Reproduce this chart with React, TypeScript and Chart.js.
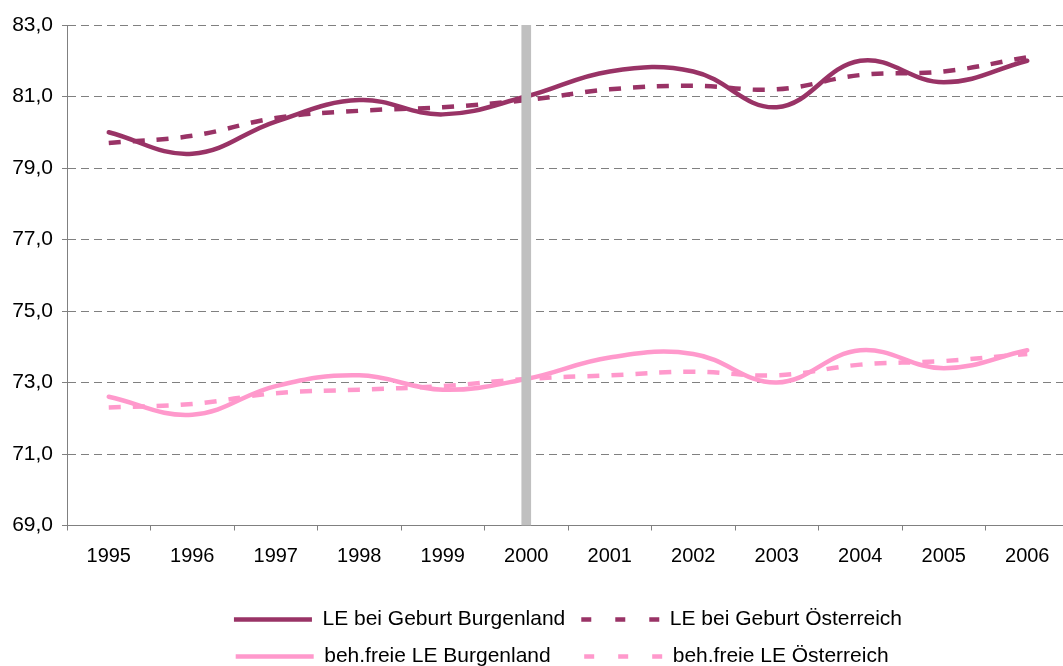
import React, { useEffect, useRef } from 'react';
import { Chart, registerables } from 'chart.js';

Chart.register(...registerables);

// ---- data ----
const years = ['1995', '1996', '1997', '1998', '1999', '2000', '2001', '2002', '2003', '2004', '2005', '2006'];
const leBurgenland = [80.0, 79.4, 80.3, 80.9, 80.5, 81.0, 81.7, 81.7, 80.7, 82.0, 81.4, 82.0];
const leOesterreich = [79.7, 79.9, 80.4, 80.6, 80.7, 80.9, 81.2, 81.3, 81.2, 81.6, 81.7, 82.1];
const hleBurgenland = [72.6, 72.1, 72.9, 73.2, 72.8, 73.1, 73.7, 73.8, 73.0, 73.9, 73.4, 73.9];
const hleOesterreich = [72.3, 72.4, 72.7, 72.8, 72.9, 73.1, 73.2, 73.3, 73.2, 73.5, 73.6, 73.8];
const seriesLabels = [
  'LE bei Geburt Burgenland',
  'LE bei Geburt Österreich',
  'beh.freie LE Burgenland',
  'beh.freie LE Österreich',
];
const markerYear = '2000';
const markerRange = [69, 83];
const yMin = 69;
const yMax = 83;
const yStep = 2;

const DARK = '#993366';
const PINK = '#FF99CC';
const FONT = "'Liberation Sans', Arial, sans-serif";

export default function App() {
  const ref = useRef<HTMLCanvasElement>(null);

  useEffect(() => {
    const canvas = ref.current;
    if (!canvas) return;
    const dash = [12, 12];
    const lineBase = {
      pointRadius: 0,
      pointHoverRadius: 0,
      borderWidth: 4.5,
      tension: 0.4,
      fill: false,
      order: 1,
      borderJoinStyle: 'round' as const,
    };
    // trailing spaces keep the legend's two columns aligned across rows
    const legendPad = ['', '', '   ', '  '];
    const defaultLabels = Chart.defaults.plugins.legend.labels.generateLabels;
    const chart = new Chart(canvas, {
      type: 'line',
      data: {
        labels: years,
        datasets: [
          {
            type: 'bar',
            label: 'marker',
            data: years.map((y) => (y === markerYear ? markerRange : null)) as any,
            backgroundColor: '#C0C0C0',
            barThickness: 9,
            order: 0,
          } as any,
          { ...lineBase, label: seriesLabels[0], data: leBurgenland, borderColor: DARK, backgroundColor: DARK, borderCapStyle: 'round' },
          { ...lineBase, label: seriesLabels[1], data: leOesterreich, borderColor: DARK, backgroundColor: DARK, borderDash: dash, borderCapStyle: 'butt' },
          { ...lineBase, label: seriesLabels[2], data: hleBurgenland, borderColor: PINK, backgroundColor: PINK, borderCapStyle: 'round' },
          { ...lineBase, label: seriesLabels[3], data: hleOesterreich, borderColor: PINK, backgroundColor: PINK, borderDash: dash, borderCapStyle: 'butt' },
        ],
      },
      options: {
        responsive: false,
        animation: false,
        events: [],
        layout: { padding: { top: 25, right: 16, left: 0, bottom: 23 } },
        plugins: {
          tooltip: { enabled: false },
          legend: {
            position: 'bottom',
            fullSize: false,
            align: 'center',
            labels: {
              usePointStyle: true,
              pointStyle: 'line',
              pointStyleWidth: 78,
              color: '#000',
              font: { family: FONT, size: 21 },
              padding: 16,
              filter: (item: any) => item.text !== 'marker',
              generateLabels: (c: any) => {
                const items = defaultLabels(c);
                items.forEach((it: any) => {
                  const ds = c.data.datasets[it.datasetIndex];
                  const idx = seriesLabels.indexOf(ds.label);
                  if (idx >= 0) it.text = ds.label + legendPad[idx];
                  it.lineDash = ds.borderDash ? [10, 24] : [];
                  it.lineWidth = ds.borderWidth;
                  it.strokeStyle = ds.borderColor;
                  it.lineCap = 'butt';
                });
                return items;
              },
            },
          },
        },
        scales: {
          x: {
            offset: true,
            grid: {
              offset: true,
              drawOnChartArea: false,
              drawTicks: true,
              tickLength: 5,
              color: '#808080',
              tickColor: '#808080',
            },
            border: { color: '#808080', width: 1 },
            ticks: {
              color: '#000',
              font: { family: FONT, size: 20 },
              padding: 14,
              maxRotation: 0,
              autoSkip: false,
            },
            afterFit: (s: any) => {
              s.height = 67.5;
            },
          },
          y: {
            min: yMin,
            max: yMax,
            grid: {
              color: '#808080',
              lineWidth: 1,
              tickLength: 5,
              tickColor: '#808080',
              tickBorderDash: [],
            },
            border: { color: '#808080', width: 1, dash: [8, 5] },
            ticks: {
              stepSize: yStep,
              color: '#000',
              font: { family: FONT, size: 21 },
              padding: 9,
              callback: (v: any) => Number(v).toFixed(1).replace('.', ','),
            },
            afterFit: (s: any) => {
              s.width = 67;
            },
          },
        },
      } as any,
    });
    return () => chart.destroy();
  }, []);

  return (
    <div
      style={{
        position: 'fixed',
        left: 0,
        top: 0,
        width: 1063,
        height: 666,
        overflow: 'hidden',
        background: '#fff',
      }}
    >
      <canvas ref={ref} width={1085} height={700} style={{ display: 'block' }} />
    </div>
  );
}
